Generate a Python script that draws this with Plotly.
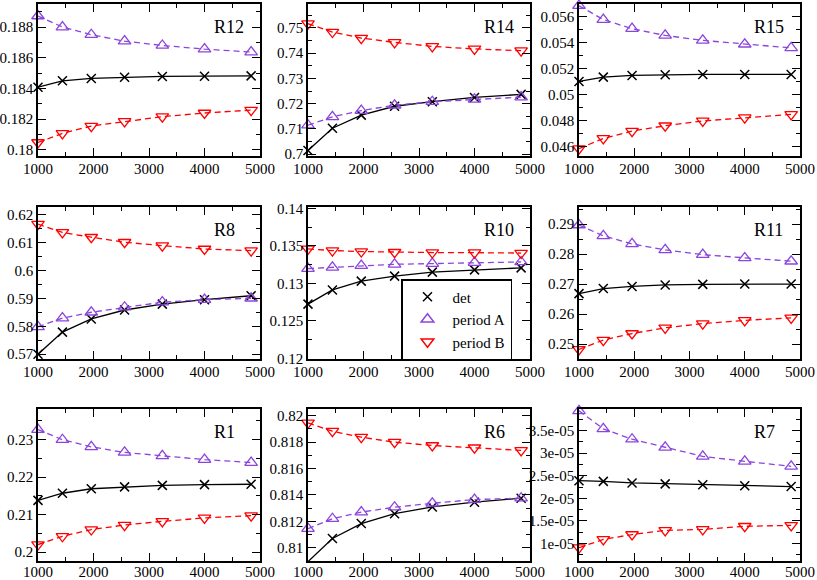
# 3x3 grid of convergence panels: det vs period A / period B estimates
import plotly.graph_objects as go
from plotly.subplots import make_subplots

# --- DATA ---
sizes = [1000, 1440, 1960, 2560, 3240, 4000, 4840]
panel_names = ["R12", "R14", "R15", "R8", "R10", "R11", "R1", "R6", "R7"]

det_R12 = [0.18408, 0.1845, 0.18465, 0.18473, 0.18478, 0.1848, 0.18482]
perA_R12 = [0.18872, 0.188, 0.1875, 0.18708, 0.1868, 0.18656, 0.18637]
perB_R12 = [0.18048, 0.18107, 0.18155, 0.18185, 0.18216, 0.1824, 0.18259]

det_R14 = [0.7015, 0.7103, 0.7155, 0.719, 0.7208, 0.7225, 0.7237]
perA_R14 = [0.7115, 0.7148, 0.7173, 0.7194, 0.7208, 0.7217, 0.7226]
perB_R14 = [0.7517, 0.7484, 0.746, 0.7443, 0.7427, 0.7417, 0.741]

det_R15 = [0.05104, 0.05137, 0.0515, 0.05155, 0.05158, 0.05158, 0.05158]
perA_R15 = [0.05687, 0.0558, 0.0551, 0.05458, 0.0542, 0.0539, 0.05362]
perB_R15 = [0.04587, 0.04665, 0.04722, 0.04763, 0.048, 0.04825, 0.0485]

det_R8 = [0.57, 0.5779, 0.5826, 0.5858, 0.5879, 0.5895, 0.5909]
perA_R8 = [0.5798, 0.5829, 0.585, 0.5868, 0.5886, 0.5895, 0.59]
perB_R8 = [0.6165, 0.6135, 0.6118, 0.61, 0.6088, 0.6076, 0.607]

det_R10 = [0.12723, 0.12912, 0.1303, 0.13097, 0.1315, 0.1318, 0.13207]
perA_R10 = [0.13198, 0.13215, 0.13237, 0.13255, 0.13264, 0.13277, 0.13286]
perB_R10 = [0.1346, 0.13438, 0.13425, 0.13416, 0.13412, 0.1341, 0.13405]

det_R11 = [0.2668, 0.2685, 0.2692, 0.2697, 0.2699, 0.27, 0.27]
perA_R11 = [0.2897, 0.2861, 0.2834, 0.2814, 0.2798, 0.2787, 0.2776]
perB_R11 = [0.2482, 0.2513, 0.2535, 0.2554, 0.2568, 0.2579, 0.2587]

det_R1 = [0.2138, 0.2157, 0.2169, 0.2174, 0.2178, 0.218, 0.2181]
perA_R1 = [0.2327, 0.23, 0.2281, 0.2266, 0.2257, 0.2247, 0.2239]
perB_R1 = [0.202, 0.2042, 0.206, 0.2072, 0.2082, 0.2091, 0.2097]

det_R6 = [0.80895, 0.8107, 0.81183, 0.81258, 0.81309, 0.81345, 0.81375]
perA_R6 = [0.81145, 0.8122, 0.8127, 0.81307, 0.81337, 0.81365, 0.81375]
perB_R6 = [0.81945, 0.81882, 0.81837, 0.81799, 0.81774, 0.81757, 0.81737]

det_R7 = [2.39e-05, 2.376e-05, 2.34e-05, 2.32e-05, 2.30e-05, 2.28e-05, 2.26e-05]
perA_R7 = [3.94e-05, 3.54e-05, 3.31e-05, 3.13e-05, 2.93e-05, 2.82e-05, 2.71e-05]
perB_R7 = [0.905e-05, 1.088e-05, 1.197e-05, 1.29e-05, 1.31e-05, 1.38e-05, 1.40e-05]

R7_tickvals = [1e-05, 1.5e-05, 2e-05, 2.5e-05, 3e-05, 3.5e-05]
R7_ticktext = ["1e-05", "1.5e-05", "2e-05", "2.5e-05", "3e-05", "3.5e-05"]

series = {
    "R12": (det_R12, perA_R12, perB_R12),
    "R14": (det_R14, perA_R14, perB_R14),
    "R15": (det_R15, perA_R15, perB_R15),
    "R8": (det_R8, perA_R8, perB_R8),
    "R10": (det_R10, perA_R10, perB_R10),
    "R11": (det_R11, perA_R11, perB_R11),
    "R1": (det_R1, perA_R1, perB_R1),
    "R6": (det_R6, perA_R6, perB_R6),
    "R7": (det_R7, perA_R7, perB_R7),
}

# y range, major step, minor step
y_axes = {
    "R12": ([0.1796, 0.1895], 0.002, 0.001),
    "R14": ([0.6993, 0.7595], 0.01, 0.005),
    "R15": ([0.0453, 0.0570], 0.002, 0.001),
    "R8": ([0.5683, 0.6226], 0.01, 0.005),
    "R10": ([0.1199, 0.1402], 0.005, 0.0025),
    "R11": ([0.2450, 0.2957], 0.01, 0.005),
    "R1": ([0.1976, 0.2382], 0.01, 0.005),
    "R6": ([0.8090, 0.8205], 0.002, 0.001),
    "R7": ([0.61e-05, 3.98e-05], 0.5e-05, 0.25e-05),
}

# --- STYLE ---
W, H = 817, 580
FONT = "'Liberation Serif', 'Times New Roman', Times, serif"
PURPLE = "#8c45dc"
RED = "#ff0000"
col_px = [(38, 260), (308, 530), (579, 800)]
row_px = [(4, 156), (207, 359), (409, 561)]

fig = make_subplots(rows=3, cols=3)

for i, name in enumerate(panel_names):
    r, c = i // 3 + 1, i % 3 + 1
    det, pa, pb = series[name]
    fig.add_trace(go.Scatter(x=sizes, y=det, mode="lines+markers", showlegend=False, cliponaxis=False,
                             line=dict(color="black", width=1.3),
                             marker=dict(symbol="x-thin-open", size=9, line=dict(color="black", width=1.5))),
                  row=r, col=c)
    fig.add_trace(go.Scatter(x=sizes, y=pa, mode="lines+markers", showlegend=False, cliponaxis=False,
                             line=dict(color=PURPLE, width=1.3, dash="6px,4px"),
                             marker=dict(symbol="triangle-up-open", size=11, color=PURPLE, line=dict(width=1.3))),
                  row=r, col=c)
    fig.add_trace(go.Scatter(x=sizes, y=pb, mode="lines+markers", showlegend=False, cliponaxis=False,
                             line=dict(color=RED, width=1.3, dash="6px,4px"),
                             marker=dict(symbol="triangle-down-open", size=11, color=RED, line=dict(width=1.3))),
                  row=r, col=c)

    x0, x1 = col_px[c - 1]
    y0, y1 = row_px[r - 1]
    axis_common = dict(showline=True, linecolor="black", linewidth=1.5, mirror="ticks",
                       ticks="inside", ticklen=8, tickwidth=1.3, tickcolor="black",
                       showgrid=False, zeroline=False, automargin=False,
                       tickfont=dict(family=FONT, size=15, color="black"))
    fig.update_xaxes(domain=[x0 / W, x1 / W], range=[1000, 5000], dtick=1000, tick0=0,
                     minor=dict(dtick=500, ticks="inside", ticklen=4, tickwidth=1.3, tickcolor="black"),
                     ticklabelstandoff=-4 if r == 3 else -2, row=r, col=c, **axis_common)
    yr, ydt, ymin = y_axes[name]
    yextra = dict(tickvals=R7_tickvals, ticktext=R7_ticktext) if name == "R7" else dict(dtick=ydt, tick0=0)
    fig.update_yaxes(domain=[1 - y1 / H, 1 - y0 / H], range=yr,
                     minor=dict(dtick=ymin, tick0=0, ticks="inside", ticklen=4, tickwidth=1.3, tickcolor="black"),
                     row=r, col=c, **axis_common, **yextra)

    fig.add_annotation(text=name, xref=f"x{i + 1 if i else ''} domain", yref=f"y{i + 1 if i else ''} domain",
                       x=0.785, y=0.85, xanchor="left", yanchor="middle", showarrow=False,
                       font=dict(family=FONT, size=18, color="black"))

# legend-only entries (markers only, like the original)
legend_items = [("det", "x-thin-open", "black", 9), ("period A", "triangle-up-open", PURPLE, 11),
                ("period B", "triangle-down-open", RED, 11)]
for label, sym, colr, sz in legend_items:
    fig.add_trace(go.Scatter(x=[None], y=[None], mode="markers", name=label,
                             marker=dict(symbol=sym, size=sz, color=colr, line=dict(color=colr, width=1.5))),
                  row=2, col=2)

fig.update_layout(
    template="none",
    width=W, height=H,
    margin=dict(l=0, r=0, t=0, b=0),
    paper_bgcolor="white", plot_bgcolor="white",
    font=dict(family=FONT, size=15, color="black"),
    legend=dict(x=401 / W, y=1 - 279 / H, xanchor="left", yanchor="top",
                bgcolor="white", bordercolor="black", borderwidth=1.5, itemwidth=40,
                font=dict(family=FONT, size=15, color="black"), tracegroupgap=0),
)
fig.write_html("out.html", config={"displayModeBar": False},
               post_script="document.body.style.margin='0';")
